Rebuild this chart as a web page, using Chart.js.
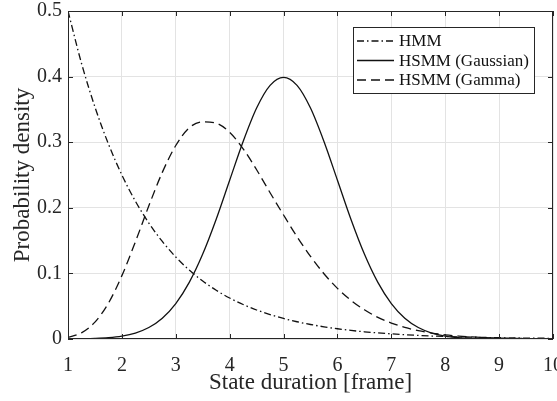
<!DOCTYPE html>
<html>
<head>
<meta charset="utf-8">
<script src="https://cdn.jsdelivr.net/npm/chart.js@4.4.0/dist/chart.umd.min.js"></script>
<style>
  html, body { margin: 0; padding: 0; background: #fff; }
  #wrap { width: 557px; height: 401px; }
</style>
</head>
<body>
<div id="wrap"><canvas id="grafico" width="557" height="401"></canvas></div>
<script>
// --- DADOS ---
const duracoes = [1, 1.25, 1.5, 1.75, 2, 2.25, 2.5, 2.75, 3, 3.25, 3.5, 3.75, 4, 4.25, 4.5, 4.75,
  5, 5.25, 5.5, 5.75, 6, 6.25, 6.5, 6.75, 7, 7.25, 7.5, 7.75, 8, 8.25, 8.5, 8.75, 9, 9.25, 9.5, 9.75, 10];

const hmm = [0.5, 0.4204, 0.3536, 0.2973, 0.25, 0.2102, 0.1768, 0.1487, 0.125, 0.1051, 0.0884, 0.0743,
  0.0625, 0.0526, 0.0442, 0.0372, 0.0313, 0.0263, 0.0221, 0.0186, 0.0156, 0.0131, 0.0110, 0.0093,
  0.0078, 0.0066, 0.0055, 0.0046, 0.0039, 0.0033, 0.0028, 0.0023, 0.0020, 0.0016, 0.0014, 0.0012, 0.0010];

const hsmmGauss = [0.0001, 0.0004, 0.0009, 0.0020, 0.0044, 0.0091, 0.0175, 0.0317, 0.0540, 0.0863,
  0.1295, 0.1826, 0.2420, 0.3011, 0.3521, 0.3867, 0.3989, 0.3867, 0.3521, 0.3011, 0.2420, 0.1826,
  0.1295, 0.0863, 0.0540, 0.0317, 0.0175, 0.0091, 0.0044, 0.0020, 0.0009, 0.0004, 0.0001, 0.0001,
  0.0000, 0.0000, 0.0000];

const hsmmGamma = [0.0024, 0.0094, 0.0257, 0.0546, 0.0966, 0.148, 0.203, 0.254, 0.295, 0.322, 0.331,
  0.329, 0.315, 0.290, 0.258, 0.223, 0.189, 0.156, 0.126, 0.0995, 0.0772, 0.0590, 0.0445, 0.0330,
  0.0243, 0.0177, 0.0127, 0.0091, 0.0064, 0.0045, 0.0031, 0.0022, 0.0015, 0.0010, 0.0007, 0.0005, 0.0003];

const ticksX = [1, 2, 3, 4, 5, 6, 7, 8, 9, 10];
const ticksY = [0, 0.1, 0.2, 0.3, 0.4, 0.5];

const nomes = ['HMM', 'HSMM (Gaussian)', 'HSMM (Gamma)'];

// --- ESTILO ---
const corLinha = '#111111';
const corTexto = '#262626';
const corGrade = '#e3e3e3';
const fonteSerif = '"Liberation Serif", "Times New Roman", serif';
const tracos = [[7, 3, 1.5, 3], [], [9, 5]];

function pontos(valores) {
  return duracoes.map((d, i) => ({ x: d, y: valores[i] }));
}

// moldura + ticks para dentro (estilo MATLAB)
const molduraPlugin = {
  id: 'moldura',
  afterDatasetsDraw(chart) {
    const { ctx, chartArea: a, scales } = chart;
    ctx.save();
    ctx.strokeStyle = corTexto;
    ctx.lineWidth = 1;
    ctx.strokeRect(a.left + 0.5, a.top + 0.5, a.right - a.left - 1, a.bottom - a.top - 1);
    const t = 5;
    ctx.beginPath();
    ticksX.forEach(v => {
      const px = Math.round(scales.x.getPixelForValue(v)) + 0.5;
      ctx.moveTo(px, a.bottom); ctx.lineTo(px, a.bottom - t);
      ctx.moveTo(px, a.top); ctx.lineTo(px, a.top + t);
    });
    ticksY.forEach(v => {
      const py = Math.round(scales.y.getPixelForValue(v)) + 0.5;
      ctx.moveTo(a.left, py); ctx.lineTo(a.left + t, py);
      ctx.moveTo(a.right, py); ctx.lineTo(a.right - t, py);
    });
    ctx.stroke();
    ctx.restore();
  }
};

// legenda desenhada dentro da área do gráfico
const legendaPlugin = {
  id: 'legendaInterna',
  afterDraw(chart) {
    const { ctx } = chart;
    const x0 = 353, y0 = 27, w = 181, h = 66;
    ctx.save();
    ctx.fillStyle = '#fff';
    ctx.fillRect(x0, y0, w, h);
    ctx.strokeStyle = corTexto;
    ctx.lineWidth = 1;
    ctx.strokeRect(x0 + 0.5, y0 + 0.5, w, h);
    ctx.font = '17px ' + fonteSerif;
    ctx.textBaseline = 'middle';
    chart.data.datasets.forEach((ds, i) => {
      const y = y0 + 14 + i * 19.5;
      ctx.strokeStyle = corLinha;
      ctx.lineWidth = 1.3;
      ctx.setLineDash(ds.borderDash || []);
      ctx.beginPath();
      ctx.moveTo(357, y);
      ctx.lineTo(394, y);
      ctx.stroke();
      ctx.setLineDash([]);
      ctx.fillStyle = '#111';
      ctx.fillText(ds.label, 399, y + 1);
    });
    ctx.restore();
  }
};

const ctx = document.getElementById('grafico').getContext('2d');
new Chart(ctx, {
  type: 'line',
  data: {
    datasets: [hmm, hsmmGauss, hsmmGamma].map((serie, i) => ({
      label: nomes[i],
      data: pontos(serie),
      borderColor: corLinha,
      borderWidth: 1.3,
      borderDash: tracos[i],
      pointRadius: 0,
      fill: false,
      cubicInterpolationMode: 'monotone'
    }))
  },
  options: {
    responsive: false,
    animation: false,
    layout: { padding: { top: 11, right: 4, left: 0, bottom: 0 } },
    plugins: { legend: { display: false }, tooltip: { enabled: false } },
    scales: {
      x: {
        type: 'linear',
        min: 1, max: 10,
        afterFit: s => { s.height = 62; s.paddingLeft = 0; s.paddingRight = 0; },
        afterBuildTicks: s => { s.ticks = ticksX.map(v => ({ value: v })); },
        grid: { color: corGrade, drawTicks: false },
        border: { display: false },
        ticks: { color: corTexto, font: { family: fonteSerif, size: 20 }, padding: 15, maxRotation: 0 },
        title: { display: true, text: 'State duration [frame]', color: corTexto,
          font: { family: fonteSerif, size: 23 }, padding: { top: 0, bottom: 4 } }
      },
      y: {
        min: 0, max: 0.5,
        afterFit: s => { s.width = 68; s.paddingTop = 0; s.paddingBottom = 0; },
        afterBuildTicks: s => { s.ticks = ticksY.map(v => ({ value: v })); },
        grid: { color: corGrade, drawTicks: false },
        border: { display: false },
        ticks: { color: corTexto, font: { family: fonteSerif, size: 20 }, padding: 6,
          callback: v => String(Math.round(v * 10) / 10) },
        title: { display: true, text: 'Probability density', color: corTexto,
          font: { family: fonteSerif, size: 23 }, padding: { top: 9, bottom: 0 } }
      }
    }
  },
  plugins: [molduraPlugin, legendaPlugin]
});
</script>
</body>
</html>
